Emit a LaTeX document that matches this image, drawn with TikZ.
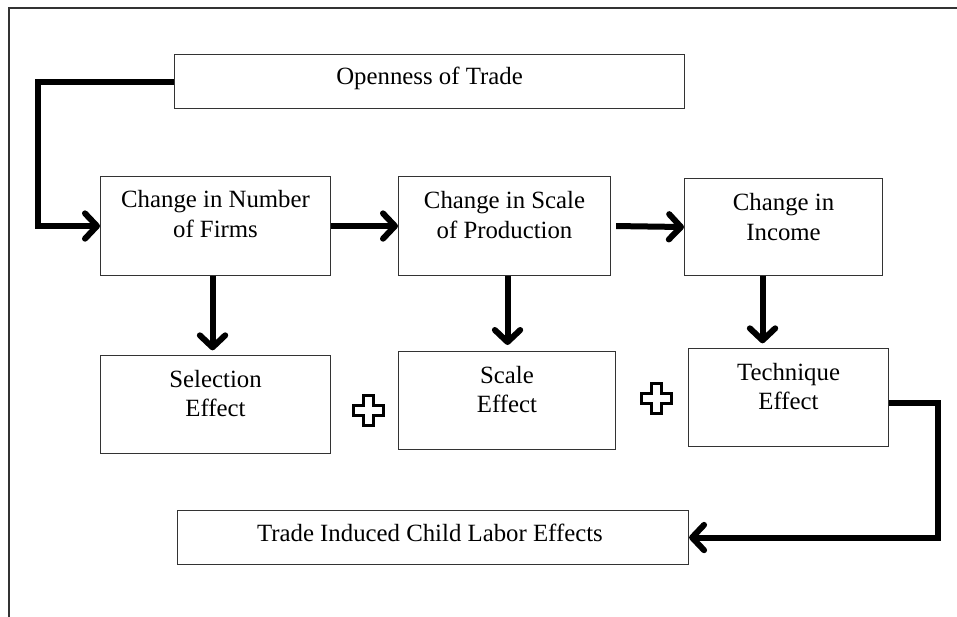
\documentclass[tikz,border=0pt]{standalone}
\usepackage{fontspec}
\setmainfont{Liberation Serif}
\usetikzlibrary{arrows.meta}

\tikzset{
  box/.style={draw=black!80, line width=0.8pt, rectangle, inner sep=0pt, anchor=north west},
  boxtext/.style={align=center, font=\fontsize{18.6}{22}\selectfont, inner sep=0pt},
  flow/.style={line width=4.5pt, line join=miter,
    -{Straight Barb[length=9pt, width=19pt, line cap=round, line join=round]}},
  plussign/.pic={
    \draw[line width=2.25pt, fill=white, line join=miter]
      (-5,-15) -- (5,-15) -- (5,-5) -- (15,-5) -- (15,5) -- (5,5) -- (5,15)
      -- (-5,15) -- (-5,5) -- (-15,5) -- (-15,-5) -- (-5,-5) -- cycle;
  }
}

\begin{document}
\begin{tikzpicture}[x=0.75pt, y=-0.75pt]
  \useasboundingbox (0,0) rectangle (957,617);

  % frame round the page
  \draw[line width=1.3pt, black!80] (9,617) -- (9,8) -- (957,8);

  % the boxes: name / left / top / width / height
  \foreach \name/\x/\y/\w/\h in {
      trade/174/54/510/54,
      firms/100/176/230/99,
      scale/398/176/212/99,
      income/684/178/198/97,
      selection/100/355/230/98,
      scaleeff/398/351/217/98,
      technique/688/348/200/98,
      labor/177/510/511/54
    } {
      \node[box, minimum width=\w*0.75pt, minimum height=\h*0.75pt] (\name) at (\x,\y) {};
    }

  % text in each box, a little above the middle
  \foreach \name/\dy/\txt in {
      trade/3/{Openness of Trade},
      firms/12/{Change in Number\\of Firms},
      scale/11/{Change in Scale\\of Production},
      income/10/{Change in\\Income},
      selection/11/{Selection\\Effect},
      scaleeff/11/{Scale\\Effect},
      technique/11/{Technique\\Effect},
      labor/5/{Trade Induced Child Labor Effects}
    } {
      \node[boxtext] (\name-t) at ([yshift=\dy*0.75pt]\name.center) {\txt};
    }

  % arrows along the chain
  \draw[flow] (trade.west) -- ++(-136,0) |- (firms.west);
  \draw[flow] (firms.east) -- (scale.west);
  \draw[flow] ([xshift=3.75pt]scale.east) -- (income.west);

  % arrows down to the effects
  \draw[flow, shorten >=3.5pt] ([xshift=-2.25pt]firms.south) -- ([xshift=-2.25pt]firms.south |- selection.north);
  \draw[flow, shorten >=4.5pt] ([xshift=2.25pt]scale.south) -- ([xshift=2.25pt]scale.south |- scaleeff.north);
  \draw[flow, shorten >=3.5pt] ([xshift=-15.75pt]income.south) -- ([xshift=-15.75pt]income.south |- technique.north);

  % summing the three effects
  \pic at (368,410) {plussign};
  \pic at (656,398) {plussign};

  % total effect
  \draw[flow] ([yshift=-3.75pt]technique.east) -- ++(49,0) |- (labor.east);

\end{tikzpicture}
\end{document}
